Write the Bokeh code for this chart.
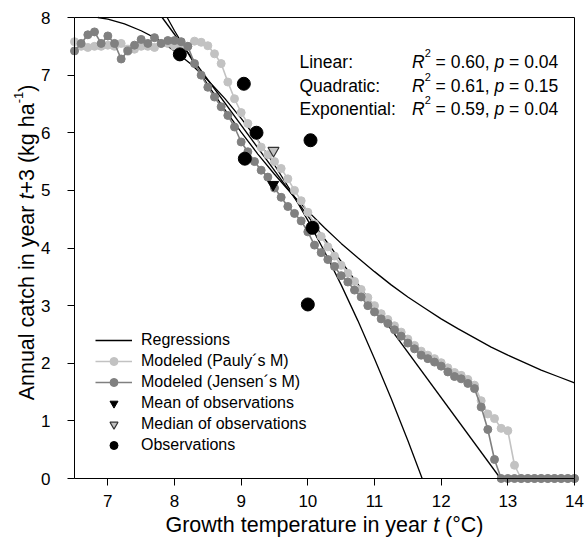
import math
from bokeh.plotting import figure
from bokeh.models import Label, Legend, LegendItem, FixedTicker, Range1d, LinearAxis
from bokeh.embed import file_html
from bokeh.resources import INLINE

# ---------------- data ----------------
temp = [6.5, 6.6, 6.7, 6.8, 6.9, 7.0, 7.1, 7.2, 7.3, 7.4, 7.5, 7.6, 7.7, 7.8, 7.9,
        8.0, 8.1, 8.2, 8.3, 8.4, 8.5, 8.6, 8.7, 8.8, 8.9, 9.0, 9.1, 9.2, 9.3, 9.4,
        9.5, 9.6, 9.7, 9.8, 9.9, 10.0, 10.1, 10.2, 10.3, 10.4, 10.5, 10.6, 10.7,
        10.8, 10.9, 11.0, 11.1, 11.2, 11.3, 11.4, 11.5, 11.6, 11.7, 11.8, 11.9,
        12.0, 12.1, 12.2, 12.3, 12.4, 12.5, 12.6, 12.7, 12.8, 12.9, 13.0, 13.1,
        13.2, 13.3, 13.4, 13.5, 13.6, 13.7, 13.8, 13.9, 14.0]

catch_pauly = [7.58, 7.50, 7.48, 7.50, 7.50, 7.52, 7.50, 7.55, 7.45, 7.45, 7.50, 7.50,
               7.48, 7.55, 7.55, 7.50, 7.45, 7.50,
               7.59, 7.57, 7.51, 7.37, 7.20, 6.88, 6.59, 6.35, 6.16, 5.98, 5.75, 5.62,
               5.50, 5.38, 5.20, 5.00, 4.82, 4.62, 4.42, 4.20, 4.02, 3.86, 3.70, 3.56,
               3.42, 3.28, 3.14, 3.00, 2.86, 2.76, 2.65, 2.54, 2.42, 2.31, 2.21, 2.14,
               2.08, 2.01, 1.92, 1.84, 1.79, 1.72, 1.62, 1.35, 1.12, 1.04, 0.87, 0.83,
               0.23,
               0, 0, 0, 0, 0, 0, 0, 0, 0]

catch_jensen = [7.42, 7.55, 7.70, 7.75, 7.55, 7.68, 7.55, 7.28, 7.42, 7.52, 7.62, 7.55,
                7.65, 7.55, 7.60, 7.60, 7.58, 7.50,
                7.20, 7.00, 6.79, 6.62, 6.45, 6.30, 6.10, 5.84, 5.67, 5.50, 5.35, 5.23,
                5.04, 4.88, 4.72, 4.60, 4.47, 4.28, 4.05, 3.92, 3.80, 3.68, 3.52, 3.41,
                3.27, 3.15, 3.00, 2.89, 2.77, 2.69, 2.58, 2.47, 2.35, 2.25, 2.14, 2.08,
                2.02, 1.95, 1.85, 1.77, 1.73, 1.65, 1.56, 1.24, 0.85, 0.33,
                0, 0, 0, 0, 0, 0, 0, 0, 0, 0, 0, 0]

obs_temp = [8.08, 9.04, 9.23, 9.055, 10.04, 10.07, 10.0]
obs_catch = [7.36, 6.85, 6.00, 5.55, 5.87, 4.35, 3.02]

mean_temp = [9.48]
mean_catch = [5.10]
median_temp = [9.485]
median_catch = [5.69]

lin_temp = [7.815, 12.89]
lin_catch = [8.0, 0.0]

quad_temp = [6.85, 7.0, 7.25, 7.5, 7.75, 8.0, 8.25, 8.5, 8.75, 9.0, 9.25, 9.5,
             9.75, 10.0, 10.25, 10.5, 10.75, 11.0, 11.25, 11.5, 11.715]
quad_catch = [8.0, 7.97, 7.89, 7.77, 7.62, 7.42, 7.19, 6.91, 6.60, 6.25, 5.87,
              5.44, 4.98, 4.48, 3.94, 3.36, 2.74, 2.08, 1.39, 0.66, 0.0]

exp_temp = [7.89, 8.0, 8.25, 8.5, 8.75, 9.0, 9.25, 9.5, 9.75, 10.0, 10.25, 10.5, 10.75,
            11.0, 11.25, 11.5, 11.75, 12.0, 12.25, 12.5, 12.75, 13.0, 13.25, 13.5,
            13.75, 14.0]
exp_catch = [8.00, 7.77, 7.29, 6.83, 6.41, 6.01, 5.63, 5.28, 4.95, 4.64, 4.35, 4.08,
             3.83, 3.59, 3.36, 3.15, 2.96, 2.77, 2.60, 2.44, 2.28, 2.14, 2.01, 1.88,
             1.77, 1.66]

x_ticks = [7, 8, 9, 10, 11, 12, 13, 14]
y_ticks = [0, 1, 2, 3, 4, 5, 6, 7, 8]

stat_models = ["Linear:", "Quadratic:", "Exponential:"]
stat_r2 = ["0.60", "0.61", "0.59"]
stat_p = ["0.04", "0.15", "0.04"]

assert len(temp) == len(catch_pauly) == len(catch_jensen)

# ---------------- layout / style ----------------
FONT = "Liberation Sans"
LIGHT = "#c2c2c2"
DARK = "#808080"

X0, X1, Y0, Y1 = 6.5, 14.0, 0.0, 8.0       # axis extent
PL, PR, PT, PB = 74, 574, 17, 478           # axis box in page pixels
CW, CH = 585, 555                           # canvas
SX = (PR - PL) / (X1 - X0)                  # px per unit
SY = (PB - PT) / (Y1 - Y0)


def fx(px):
    return X0 + (px - PL) / SX


def fy(py):
    return Y0 + (PB - py) / SY


AW = {' ': 278, '(': 333, ')': 333, '+': 584, ',': 278, '-': 333, '.': 278, ':': 278,
      '=': 584, '°': 400, '´': 333, 'A': 667, 'C': 722, 'E': 667, 'G': 778, 'L': 556,
      'Q': 778, 'R': 722, 'a': 556, 'c': 500, 'd': 556, 'e': 556, 'g': 556, 'h': 556,
      'i': 222, 'k': 500, 'l': 222, 'm': 833, 'n': 556, 'o': 556, 'p': 556, 'r': 333,
      's': 500, 't': 278, 'u': 556, 'w': 722, 'x': 500, 'y': 500}


def tw(s, size):
    return sum(AW.get(c, 556) for c in s) * size / 1000.0


# the frame covers the whole canvas; the axes are placed at fixed data positions
p = figure(x_range=Range1d(fx(0), fx(CW)), y_range=Range1d(fy(CH), fy(0)),
           frame_width=CW, frame_height=CH,
           min_border_left=0, min_border_right=0, min_border_top=0, min_border_bottom=0,
           output_backend="svg", toolbar_location=None)

p.xgrid.visible = False
p.ygrid.visible = False
p.outline_line_color = None
p.background_fill_color = "white"
p.border_fill_color = "white"

xa, ya = p.xaxis[0], p.yaxis[0]
xa.fixed_location = Y0
xa.bounds = (X0, X1)
ya.fixed_location = X0
ya.bounds = (Y0, Y1)
for ax, ticks in ((xa, x_ticks), (ya, y_ticks)):
    ax.ticker = FixedTicker(ticks=ticks)
    ax.major_label_text_font = FONT
    ax.major_label_text_font_size = "17px"
    ax.major_label_text_color = "black"
    ax.major_tick_out = 7
    ax.major_tick_in = 0
    ax.minor_tick_out = 0
    ax.minor_tick_in = 0
    ax.axis_line_color = "black"
    ax.axis_line_width = 1
    ax.major_tick_line_color = "black"
xa.major_label_standoff = 9
ya.major_label_standoff = 17

# box: top and right edges
top_ax = LinearAxis(ticker=FixedTicker(ticks=[]), fixed_location=Y1, bounds=(X0, X1),
                    major_tick_out=0, major_tick_in=0, minor_tick_out=0, minor_tick_in=0,
                    axis_line_color="black")
right_ax = LinearAxis(ticker=FixedTicker(ticks=[]), fixed_location=X1, bounds=(Y0, Y1),
                      major_tick_out=0, major_tick_in=0, minor_tick_out=0, minor_tick_in=0,
                      axis_line_color="black")
p.add_layout(top_ax, "above")
p.add_layout(right_ax, "right")

# regressions
r_lin = p.line(lin_temp, lin_catch, line_color="black", line_width=1.3)
p.line(quad_temp, quad_catch, line_color="black", line_width=1.3)
p.line(exp_temp, exp_catch, line_color="black", line_width=1.3)

# modeled
r_pl = p.line(temp, catch_pauly, line_color=LIGHT, line_width=1.6)
r_ps = p.scatter(temp, catch_pauly, size=8, fill_color=LIGHT, line_color=LIGHT)
r_jl = p.line(temp, catch_jensen, line_color=DARK, line_width=1.6)
r_js = p.scatter(temp, catch_jensen, size=8, fill_color=DARK, line_color=DARK)

# observations
r_mean = p.scatter(mean_temp, mean_catch, marker="inverted_triangle", size=11,
                   fill_color="black", line_color="black")
r_med = p.scatter(median_temp, median_catch, marker="inverted_triangle", size=11,
                  fill_color=LIGHT, line_color="#333333", line_width=1.2)
r_obs = p.scatter(obs_temp, obs_catch, size=13, fill_color="black", line_color="black")

legend = Legend(items=[
    LegendItem(label="Regressions", renderers=[r_lin]),
    LegendItem(label="Modeled (Pauly´s M)", renderers=[r_pl, r_ps]),
    LegendItem(label="Modeled (Jensen´s M)", renderers=[r_jl, r_js]),
    LegendItem(label="Mean of observations", renderers=[r_mean]),
    LegendItem(label="Median of observations", renderers=[r_med]),
    LegendItem(label="Observations", renderers=[r_obs]),
], location=(95, 100), orientation="vertical", glyph_width=37, glyph_height=20,
    label_height=20, spacing=1, padding=0, margin=0, label_standoff=9,
    border_line_alpha=0, background_fill_alpha=0,
    label_text_font=FONT, label_text_font_size="16px", label_text_color="black")
p.add_layout(legend)


def put(pieces, x0, y0, angle=0.0):
    """pieces: (text, size, style, rise); x0, y0: page px of the start on the baseline."""
    off = 0.0
    for txt, size, style, rise in pieces:
        shown = txt.strip()
        lead = tw(txt[:len(txt) - len(txt.lstrip())], size)
        if angle == 0.0:
            px, py = x0 + off + lead, y0 - rise
        else:
            px, py = x0 - rise, y0 - off - lead
        p.add_layout(Label(x=fx(px), y=fy(py), text=shown, angle=angle,
                           text_font=FONT, text_font_size=f"{size}px",
                           text_font_style=style, text_color="black",
                           text_baseline="alphabetic", text_align="left"))
        off += tw(txt, size)


# statistics text
S = 17.5
row_base = [61.7, 85.0, 108.3]
for i in range(3):
    put([(stat_models[i], S, "normal", 0)], 299, row_base[i])
    put([("R", S, "italic", 0), ("2", 11, "normal", 9),
         (" = " + stat_r2[i] + ", ", S, "normal", 0), ("p", S, "italic", 0),
         (" = " + stat_p[i], S, "normal", 0)], 411.5, row_base[i])

# axis titles
A = 21.5
xt = [("Growth temperature in year ", A, "normal", 0), ("t", A, "italic", 0),
      (" (°C)", A, "normal", 0)]
xw = sum(tw(t, s) for t, s, _, _ in xt)
put(xt, (PL + PR) / 2 - xw / 2, 524)

yt = [("Annual catch in year ", A, "normal", 0), ("t", A, "italic", 0),
      ("+3 (kg ha", A, "normal", 0), ("-1", 13, "normal", 8), (")", A, "normal", 0)]
yw = sum(tw(t, s) for t, s, _, _ in yt)
put(yt, 26, 242 + yw / 2, angle=math.pi / 2)

open("out.html", "w").write(file_html(p, INLINE))
